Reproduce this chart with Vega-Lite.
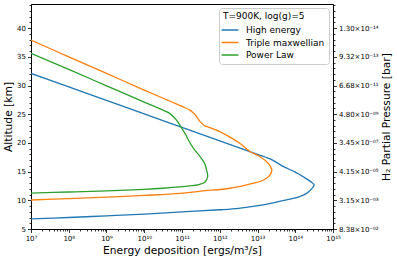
{
  "$schema": "https://vega.github.io/schema/vega-lite/v6.json",
  "autosize": "none",
  "width": 302,
  "height": 225,
  "padding": {"left": 31, "top": 4, "right": 64, "bottom": 34},
  "background": "white",
  "config": {
    "font": "DejaVu Sans",
    "view": {"stroke": "black", "strokeWidth": 1},
    "axis": {
      "domainColor": "black",
      "tickColor": "black",
      "labelColor": "black",
      "titleColor": "black",
      "labelFont": "DejaVu Sans",
      "titleFont": "DejaVu Sans",
      "labelFontSize": 7,
      "titleFontSize": 10.7,
      "titleFontWeight": "normal",
      "grid": false,
      "tickWidth": 0.8,
      "domainWidth": 0.8,
      "labelOverlap": false,
      "labelFlush": false
    },
    "legend": {
      "labelFont": "DejaVu Sans",
      "titleFont": "DejaVu Sans"
    }
  },
  "data": {
    "values": [
      {"s": "High energy", "i": 0, "E": 1e7, "alt": 32.1},
      {"s": "High energy", "i": 1, "E": 1e8, "alt": 29.75},
      {"s": "High energy", "i": 2, "E": 1e9, "alt": 27.4},
      {"s": "High energy", "i": 3, "E": 1e10, "alt": 25.05},
      {"s": "High energy", "i": 4, "E": 1e11, "alt": 22.7},
      {"s": "High energy", "i": 5, "E": 1e12, "alt": 20.35},
      {"s": "High energy", "i": 6, "E": 1e13, "alt": 18.0},
      {"s": "High energy", "i": 7, "E": 2.512e13, "alt": 17.0},
      {"s": "High energy", "i": 8, "E": 4.786e13, "alt": 15.9},
      {"s": "High energy", "i": 9, "E": 1e14, "alt": 14.9},
      {"s": "High energy", "i": 10, "E": 1.622e14, "alt": 14.1},
      {"s": "High energy", "i": 11, "E": 2.512e14, "alt": 13.3},
      {"s": "High energy", "i": 12, "E": 3.162e14, "alt": 12.7},
      {"s": "High energy", "i": 13, "E": 2.63e14, "alt": 11.9},
      {"s": "High energy", "i": 14, "E": 1.995e14, "alt": 11.2},
      {"s": "High energy", "i": 15, "E": 1.259e14, "alt": 10.6},
      {"s": "High energy", "i": 16, "E": 7.244e13, "alt": 10.2},
      {"s": "High energy", "i": 17, "E": 3.162e13, "alt": 9.7},
      {"s": "High energy", "i": 18, "E": 1.413e13, "alt": 9.2},
      {"s": "High energy", "i": 19, "E": 3.162e12, "alt": 8.6},
      {"s": "High energy", "i": 20, "E": 1e12, "alt": 8.35},
      {"s": "High energy", "i": 21, "E": 1e11, "alt": 8.0},
      {"s": "High energy", "i": 22, "E": 1e10, "alt": 7.6},
      {"s": "High energy", "i": 23, "E": 1e9, "alt": 7.3},
      {"s": "High energy", "i": 24, "E": 1e8, "alt": 7.0},
      {"s": "High energy", "i": 25, "E": 1e7, "alt": 6.75},
      {"s": "Triple maxwellian", "i": 0, "E": 1e7, "alt": 37.9},
      {"s": "Triple maxwellian", "i": 1, "E": 1e8, "alt": 35.0},
      {"s": "Triple maxwellian", "i": 2, "E": 1e9, "alt": 32.1},
      {"s": "Triple maxwellian", "i": 3, "E": 1e10, "alt": 29.2},
      {"s": "Triple maxwellian", "i": 4, "E": 1e11, "alt": 26.35},
      {"s": "Triple maxwellian", "i": 5, "E": 1.585e11, "alt": 25.75},
      {"s": "Triple maxwellian", "i": 6, "E": 2.239e11, "alt": 24.9},
      {"s": "Triple maxwellian", "i": 7, "E": 3.02e11, "alt": 23.7},
      {"s": "Triple maxwellian", "i": 8, "E": 3.981e11, "alt": 23.0},
      {"s": "Triple maxwellian", "i": 9, "E": 5.495e11, "alt": 22.65},
      {"s": "Triple maxwellian", "i": 10, "E": 1e12, "alt": 21.95},
      {"s": "Triple maxwellian", "i": 11, "E": 1.862e12, "alt": 21.0},
      {"s": "Triple maxwellian", "i": 12, "E": 3.467e12, "alt": 19.9},
      {"s": "Triple maxwellian", "i": 13, "E": 6.31e12, "alt": 18.5},
      {"s": "Triple maxwellian", "i": 14, "E": 1.175e13, "alt": 17.6},
      {"s": "Triple maxwellian", "i": 15, "E": 1.95e13, "alt": 16.4},
      {"s": "Triple maxwellian", "i": 16, "E": 2.399e13, "alt": 15.3},
      {"s": "Triple maxwellian", "i": 17, "E": 2.138e13, "alt": 14.4},
      {"s": "Triple maxwellian", "i": 18, "E": 1.413e13, "alt": 13.5},
      {"s": "Triple maxwellian", "i": 19, "E": 5.129e12, "alt": 12.7},
      {"s": "Triple maxwellian", "i": 20, "E": 1.862e12, "alt": 12.1},
      {"s": "Triple maxwellian", "i": 21, "E": 3.162e11, "alt": 11.6},
      {"s": "Triple maxwellian", "i": 22, "E": 8.913e10, "alt": 11.2},
      {"s": "Triple maxwellian", "i": 23, "E": 1e10, "alt": 10.85},
      {"s": "Triple maxwellian", "i": 24, "E": 1e9, "alt": 10.55},
      {"s": "Triple maxwellian", "i": 25, "E": 1e8, "alt": 10.3},
      {"s": "Triple maxwellian", "i": 26, "E": 1e7, "alt": 10.05},
      {"s": "Power Law", "i": 0, "E": 1e7, "alt": 35.6},
      {"s": "Power Law", "i": 1, "E": 1e8, "alt": 32.8},
      {"s": "Power Law", "i": 2, "E": 1e9, "alt": 29.95},
      {"s": "Power Law", "i": 3, "E": 1e10, "alt": 27.1},
      {"s": "Power Law", "i": 4, "E": 3.162e10, "alt": 25.7},
      {"s": "Power Law", "i": 5, "E": 4.786e10, "alt": 25.1},
      {"s": "Power Law", "i": 6, "E": 7.079e10, "alt": 24.0},
      {"s": "Power Law", "i": 7, "E": 9.55e10, "alt": 22.7},
      {"s": "Power Law", "i": 8, "E": 1.259e11, "alt": 21.4},
      {"s": "Power Law", "i": 9, "E": 1.479e11, "alt": 20.5},
      {"s": "Power Law", "i": 10, "E": 1.995e11, "alt": 19.1},
      {"s": "Power Law", "i": 11, "E": 3.02e11, "alt": 17.6},
      {"s": "Power Law", "i": 12, "E": 3.981e11, "alt": 16.4},
      {"s": "Power Law", "i": 13, "E": 4.467e11, "alt": 15.3},
      {"s": "Power Law", "i": 14, "E": 4.786e11, "alt": 14.1},
      {"s": "Power Law", "i": 15, "E": 4.074e11, "alt": 13.2},
      {"s": "Power Law", "i": 16, "E": 2.818e11, "alt": 12.75},
      {"s": "Power Law", "i": 17, "E": 1.622e11, "alt": 12.5},
      {"s": "Power Law", "i": 18, "E": 3.162e10, "alt": 12.1},
      {"s": "Power Law", "i": 19, "E": 1e10, "alt": 11.9},
      {"s": "Power Law", "i": 20, "E": 1e9, "alt": 11.65},
      {"s": "Power Law", "i": 21, "E": 1e8, "alt": 11.45},
      {"s": "Power Law", "i": 22, "E": 1e7, "alt": 11.25}
    ]
  },
  "layer": [
    {
      "mark": {"type": "line", "strokeWidth": 1.3, "interpolate": "catmull-rom", "clip": true},
      "encoding": {
        "x": {
          "field": "E", "type": "quantitative",
          "scale": {"type": "log", "domain": [1e7, 1e15], "nice": false},
          "axis": {
            "title": "Energy deposition [ergs/m³/s]",
            "titlePadding": 4,
            "values": [1e7,2e7,3e7,4e7,5e7,6e7,7e7,8e7,9e7,1e8,2e8,3e8,4e8,5e8,6e8,7e8,8e8,9e8,1e9,2e9,3e9,4e9,5e9,6e9,7e9,8e9,9e9,1e10,2e10,3e10,4e10,5e10,6e10,7e10,8e10,9e10,1e11,2e11,3e11,4e11,5e11,6e11,7e11,8e11,9e11,1e12,2e12,3e12,4e12,5e12,6e12,7e12,8e12,9e12,1e13,2e13,3e13,4e13,5e13,6e13,7e13,8e13,9e13,1e14,2e14,3e14,4e14,5e14,6e14,7e14,8e14,9e14,1e15],
            "tickSize": {"condition": {"test": "abs(log(datum.value)/LN10 - round(log(datum.value)/LN10)) < 0.001", "value": 3.5}, "value": 2},
            "labelExpr": "abs(log(datum.value)/LN10 - round(log(datum.value)/LN10)) < 0.001 ? '10' + ['⁷','⁸','⁹','¹⁰','¹¹','¹²','¹³','¹⁴','¹⁵'][round(log(datum.value)/LN10) - 7] : ''",
            "labelPadding": 2
          }
        },
        "y": {
          "field": "alt", "type": "quantitative",
          "scale": {"domain": [5, 44.2], "nice": false, "zero": false},
          "axis": {
            "title": "Altitude [km]",
            "titlePadding": 3,
            "values": [5,6,7,8,9,10,11,12,13,14,15,16,17,18,19,20,21,22,23,24,25,26,27,28,29,30,31,32,33,34,35,36,37,38,39,40,41,42,43,44],
            "tickSize": {"condition": {"test": "datum.value % 5 === 0", "value": 3.5}, "value": 2},
            "labelExpr": "datum.value % 5 === 0 ? datum.value : ''",
            "labelPadding": 2
          }
        },
        "color": {
          "field": "s", "type": "nominal",
          "scale": {"domain": ["High energy", "Triple maxwellian", "Power Law"], "range": ["#1f77b4", "#ff7f0e", "#2ca02c"]},
          "legend": {
            "title": "T=900K, log(g)=5",
            "orient": "top-right",
            "offset": 4,
            "padding": 4,
            "fillColor": "white",
            "strokeColor": "#cccccc",
            "cornerRadius": 3,
            "titleFontSize": 9,
            "titleFontWeight": "normal",
            "titlePadding": 2,
            "labelFontSize": 9,
            "symbolType": "M-1.4,0H1.4",
            "symbolSize": 144,
            "symbolStrokeWidth": 1.5,
            "labelOffset": 9,
            "rowPadding": 0.5
          }
        },
        "order": {"field": "i", "type": "quantitative"}
      }
    },
    {
      "mark": {"type": "line", "opacity": 0},
      "encoding": {
        "x": {"field": "E", "type": "quantitative", "scale": {"type": "log", "domain": [1e7, 1e15], "nice": false}},
        "y": {
          "field": "alt", "type": "quantitative",
          "scale": {"domain": [5, 44.2], "nice": false, "zero": false},
          "axis": {
            "orient": "right",
            "title": "H₂ Partial Pressure [bar]",
            "titleAngle": 270,
            "titleBaseline": "top",
            "titlePadding": 3,
            "values": [5,6,7,8,9,10,11,12,13,14,15,16,17,18,19,20,21,22,23,24,25,26,27,28,29,30,31,32,33,34,35,36,37,38,39,40,41,42,43,44],
            "tickSize": {"condition": {"test": "datum.value % 5 === 0", "value": 3.5}, "value": 2},
            "labelExpr": "datum.value === 40 ? '1.30×10⁻¹⁴' : datum.value === 35 ? '9.32×10⁻¹³' : datum.value === 30 ? '6.68×10⁻¹¹' : datum.value === 25 ? '4.80×10⁻⁰⁹' : datum.value === 20 ? '3.45×10⁻⁰⁷' : datum.value === 15 ? '4.15×10⁻⁰⁵' : datum.value === 10 ? '3.15×10⁻⁰³' : datum.value === 5 ? '8.38×10⁻⁰²' : ''",
            "labelPadding": 2
          }
        },
        "detail": {"field": "s"},
        "order": {"field": "i", "type": "quantitative"}
      }
    }
  ],
  "resolve": {"scale": {"y": "independent"}}
}
